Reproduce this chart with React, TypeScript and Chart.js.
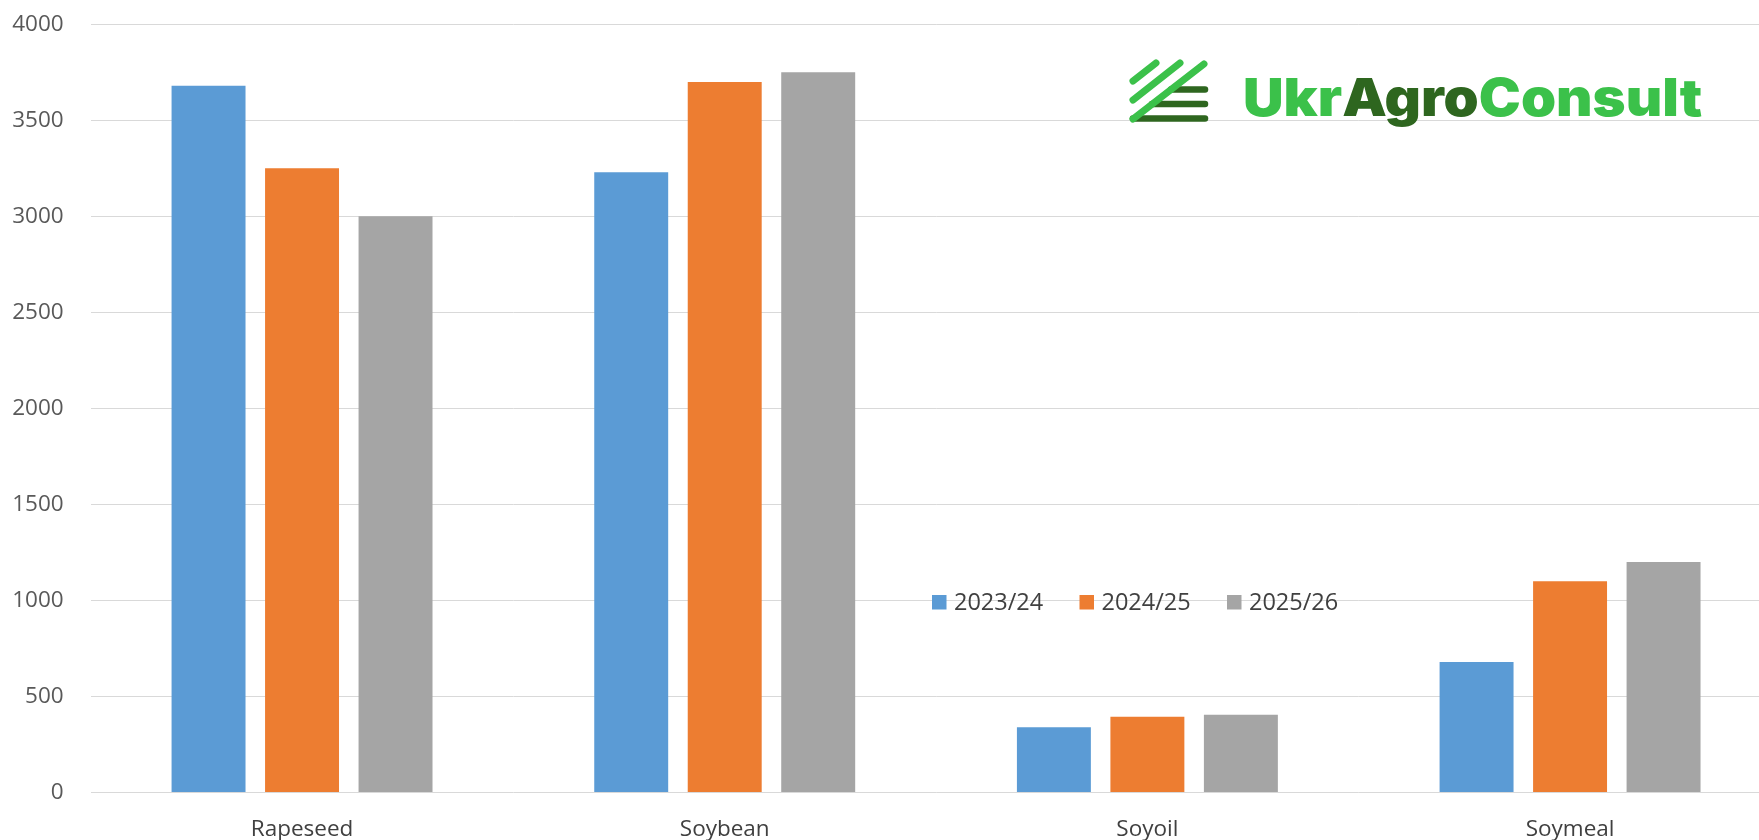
import React, { useEffect, useRef } from "react";
import { Chart, registerables } from "chart.js";

Chart.register(...registerables);

const categories = ["Rapeseed", "Soybean", "Soyoil", "Soymeal"];
const seriesLabels = ["2023/24", "2024/25", "2025/26"];
const values2023 = [3680, 3230, 340, 680];
const values2024 = [3250, 3700, 395, 1100];
const values2025 = [3000, 3750, 405, 1200];
const yMin = 0;
const yMax = 4000;
const yStep = 500;
const seriesColors = ["#5B9BD5", "#ED7D31", "#A5A5A5"];
const logoParts = ["Ukr", "Agro", "Consult"];

const LIGHT_GREEN = "#3BC14A";
const DARK_GREEN = "#2E661F";
const FONT = "'Open Sans', 'Noto Sans', sans-serif";

const legendPlugin = {
  id: "customLegend",
  afterDraw(chart: any) {
    const ctx = chart.ctx;
    ctx.save();
    const startX = 932;
    const sq = 14.5;
    const topY = 595;
    const spacing = 147.5;
    ctx.font = `23.5px ${FONT}`;
    ctx.textBaseline = "middle";
    ctx.textAlign = "left";
    chart.data.datasets.forEach((ds: any, i: number) => {
      const x = startX + i * spacing;
      ctx.fillStyle = ds.backgroundColor;
      ctx.fillRect(x, topY, sq, sq);
      ctx.fillStyle = "#404040";
      ctx.fillText(ds.label, x + 22, topY + sq / 2 + 1);
    });
    ctx.restore();
  },
};

const logoPlugin = {
  id: "logo",
  afterDraw(chart: any) {
    const ctx = chart.ctx;
    ctx.save();
    ctx.lineCap = "round";
    ctx.strokeStyle = DARK_GREEN;
    ctx.lineWidth = 6.5;
    const bars = [
      [1171, 89.5],
      [1152, 104],
      [1133, 118.5],
    ];
    bars.forEach(([x0, y]) => {
      ctx.beginPath();
      ctx.moveTo(x0, y);
      ctx.lineTo(1205, y);
      ctx.stroke();
    });
    ctx.strokeStyle = LIGHT_GREEN;
    ctx.lineWidth = 7;
    const lines = [
      [1133, 81, 1156, 63],
      [1133, 100, 1180, 63],
      [1133, 119, 1204, 64],
    ];
    lines.forEach(([x0, y0, x1, y1]) => {
      ctx.beginPath();
      ctx.moveTo(x0, y0);
      ctx.lineTo(x1, y1);
      ctx.stroke();
    });
    ctx.font = `900 52px Inter, ${FONT}`;
    ctx.textBaseline = "alphabetic";
    ctx.textAlign = "left";
    const total = ctx.measureText(logoParts.join("")).width;
    const targetW = 457;
    const sx = targetW / total;
    ctx.translate(1243, 115.5);
    ctx.scale(sx, 1);
    let x = 0;
    const cols = [LIGHT_GREEN, DARK_GREEN, LIGHT_GREEN];
    logoParts.forEach((p, i) => {
      ctx.fillStyle = cols[i];
      ctx.fillText(p, x, 0);
      x += ctx.measureText(p).width;
    });
    ctx.restore();
  },
};

export default function App() {
  const ref = useRef<HTMLCanvasElement | null>(null);

  useEffect(() => {
    if (!ref.current) return;
    const seriesValues = [values2023, values2024, values2025];
    const chart = new Chart(ref.current, {
      type: "bar",
      data: {
        labels: categories,
        datasets: seriesLabels.map((label, i) => ({
          label,
          data: seriesValues[i],
          backgroundColor: seriesColors[i],
          borderWidth: 0,
          categoryPercentage: 0.6636,
          barPercentage: 0.791,
        })),
      },
      options: {
        responsive: false,
        animation: false,
        devicePixelRatio: 1,
        layout: { padding: { top: 24.3, right: 18.6, left: 0, bottom: 0 } },
        plugins: {
          legend: { display: false },
          tooltip: { enabled: false },
        },
        scales: {
          x: {
            grid: { display: false },
            border: { display: false },
            ticks: {
              color: "#404040",
              font: { family: FONT, size: 22.5 },
              padding: 16,
            },
            afterFit(scale: any) {
              scale.height = 47.5;
            },
          },
          y: {
            min: yMin,
            max: yMax,
            border: { display: false },
            grid: { color: "#D9D9D9", lineWidth: 1, drawTicks: false },
            ticks: {
              stepSize: yStep,
              color: "#595959",
              font: { family: FONT, size: 22.5 },
              padding: 27,
              callback: (v: any) => String(v),
            },
            afterFit(scale: any) {
              scale.width = 90.7;
              scale.paddingTop = 0;
              scale.paddingBottom = 0;
            },
          },
        },
      },
      plugins: [legendPlugin, logoPlugin],
    });
    return () => chart.destroy();
  }, []);

  return (
    <div
      style={{
        position: "fixed",
        left: 0,
        top: 0,
        width: 1759,
        height: 840,
        overflow: "hidden",
        background: "#ffffff",
      }}
    >
      <canvas ref={ref} width={1800} height={840} style={{ width: 1800, height: 840, display: "block" }} />
    </div>
  );
}
